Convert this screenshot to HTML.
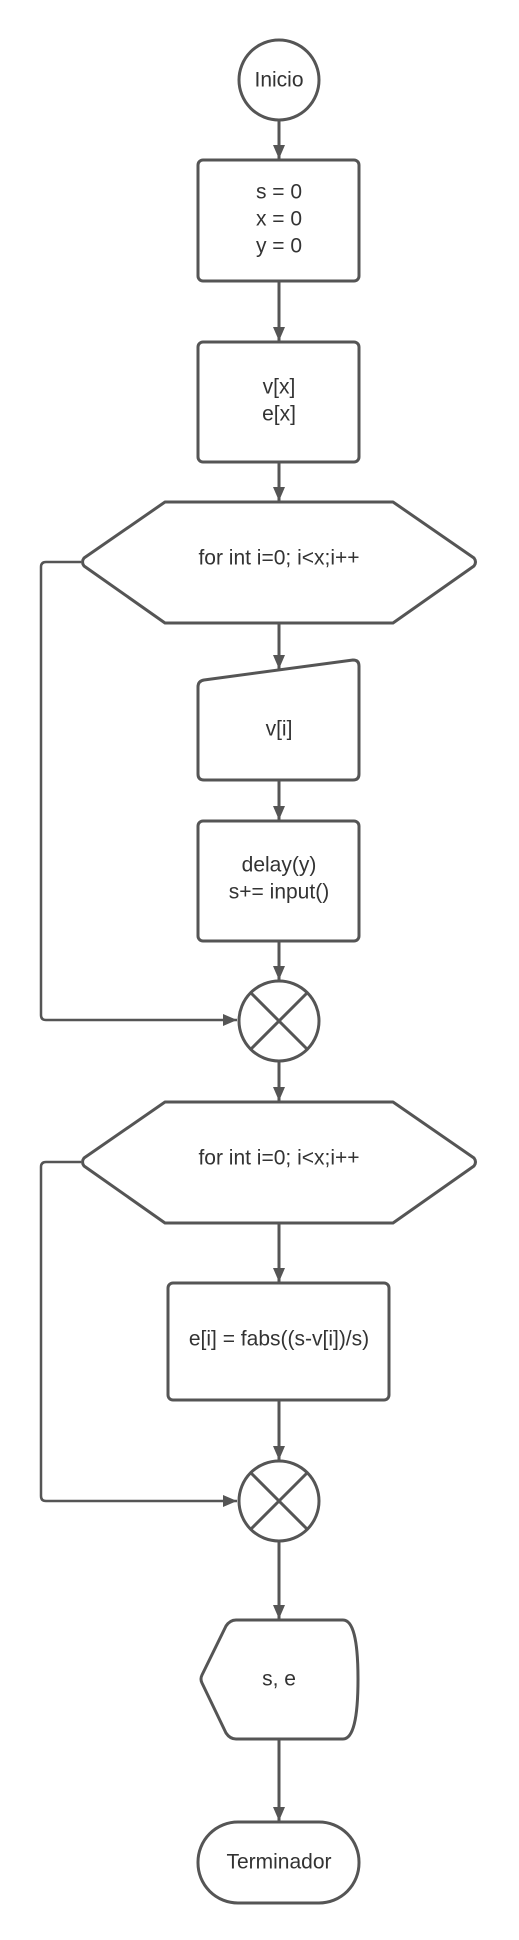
<!DOCTYPE html>
<html><head><meta charset="utf-8"><style>
html,body{margin:0;padding:0;background:#fff;}
svg{display:block;}
text{font-family:"Liberation Sans",Arial,sans-serif;font-size:21px;fill:#333;text-anchor:middle;dominant-baseline:central;}
</style></head><body>
<svg width="519" height="1940" viewBox="0 0 519 1940" xmlns="http://www.w3.org/2000/svg">
<defs>
<marker id="a" viewBox="0 0 14 12" refX="14" refY="6" markerWidth="14" markerHeight="12" markerUnits="userSpaceOnUse" orient="auto">
<path d="M0,0 L14,6 L0,12 Z" fill="#555"/>
</marker>
</defs>
<g fill="none" stroke="#555" stroke-width="3" stroke-linejoin="round">
<!-- connectors -->
<line x1="279" y1="121" x2="279" y2="159" marker-end="url(#a)"/>
<line x1="279" y1="281" x2="279" y2="341" marker-end="url(#a)"/>
<line x1="279" y1="462" x2="279" y2="501" marker-end="url(#a)"/>
<line x1="279" y1="623" x2="279" y2="669" marker-end="url(#a)"/>
<line x1="279" y1="780" x2="279" y2="820" marker-end="url(#a)"/>
<line x1="279" y1="941" x2="279" y2="980" marker-end="url(#a)"/>
<line x1="279" y1="1061" x2="279" y2="1101" marker-end="url(#a)"/>
<line x1="279" y1="1223" x2="279" y2="1282" marker-end="url(#a)"/>
<line x1="279" y1="1400" x2="279" y2="1460" marker-end="url(#a)"/>
<line x1="279" y1="1541" x2="279" y2="1619" marker-end="url(#a)"/>
<line x1="279" y1="1739" x2="279" y2="1821" marker-end="url(#a)"/>
<path d="M81,562 H46 Q41,562 41,567 V1015 Q41,1020 46,1020 H237" stroke-width="2.5" marker-end="url(#a)"/>
<path d="M81,1162 H46 Q41,1162 41,1167 V1496 Q41,1501 46,1501 H237" stroke-width="2.5" marker-end="url(#a)"/>
<!-- shapes -->
<circle cx="279" cy="80" r="40" fill="#fff"/>
<rect x="198" y="160" width="161" height="121" rx="5" fill="#fff"/>
<rect x="198" y="342" width="161" height="120" rx="5" fill="#fff"/>
<path d="M165,502 H393 L474,558 Q477,562 474,566 L393,623 H165 L84,566 Q81,562 84,558 Z" fill="#fff"/>
<path d="M204,680 L353,660 Q359,660 359,666 V774 Q359,780 353,780 H204 Q198,780 198,774 V687 Q198,681 204,680 Z" fill="#fff"/>
<rect x="198" y="821" width="161" height="120" rx="5" fill="#fff"/>
<circle cx="279" cy="1021" r="40" fill="#fff"/>
<path d="M251,993 L307,1049 M307,993 L251,1049"/>
<path d="M165,1102 H393 L474,1158 Q477,1162 474,1166 L393,1223 H165 L84,1166 Q81,1162 84,1158 Z" fill="#fff"/>
<rect x="168" y="1283" width="221" height="117" rx="5" fill="#fff"/>
<circle cx="279" cy="1501" r="40" fill="#fff"/>
<path d="M251,1473 L307,1529 M307,1473 L251,1529"/>
<path d="M236,1620 H343 Q358,1620 358,1679 Q358,1739 343,1739 H236 Q230,1739 226,1733 L202,1683 Q200,1679 202,1675 L226,1626 Q230,1620 236,1620 Z" fill="#fff"/>
<rect x="198" y="1822" width="161" height="81" rx="40" fill="#fff"/>
</g>
<text x="279" y="80">Inicio</text>
<text x="279" y="192">s = 0</text>
<text x="279" y="219">x = 0</text>
<text x="279" y="246">y = 0</text>
<text x="279" y="387">v[x]</text>
<text x="279" y="414">e[x]</text>
<text x="279" y="558">for int i=0; i&lt;x;i++</text>
<text x="279" y="729">v[i]</text>
<text x="279" y="865">delay(y)</text>
<text x="279" y="892">s+= input()</text>
<text x="279" y="1158">for int i=0; i&lt;x;i++</text>
<text x="279" y="1339">e[i] = fabs((s-v[i])/s)</text>
<text x="279" y="1679">s, e</text>
<text x="279" y="1862">Terminador</text>
</svg>
</body></html>
